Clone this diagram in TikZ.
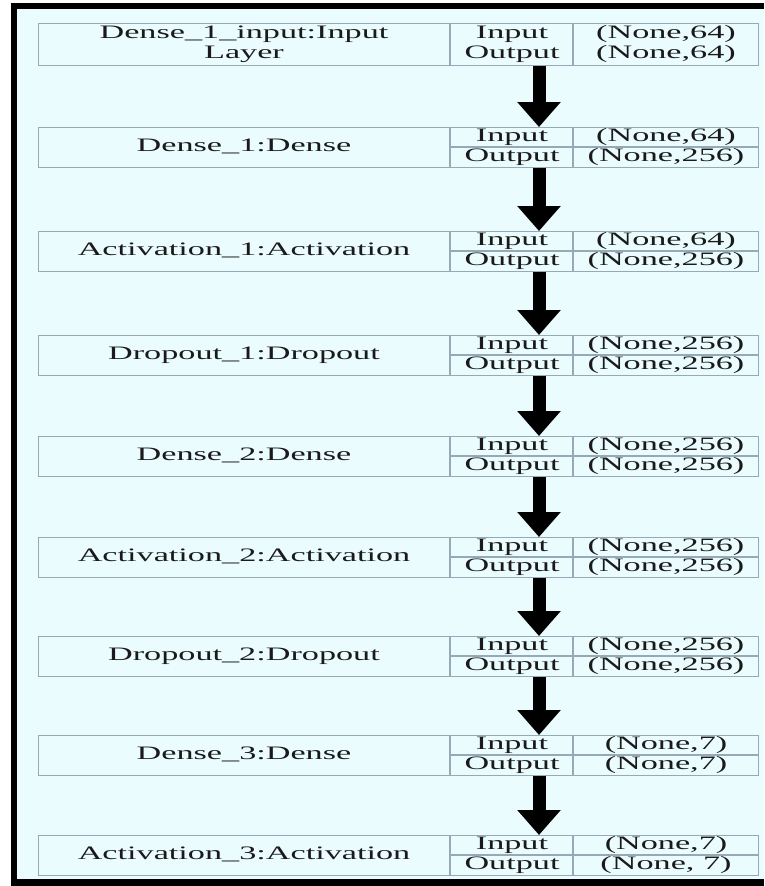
\documentclass[tikz,border=0pt]{standalone}
\usepackage{fontspec}
\setmainfont{Liberation Serif}[FakeStretch=1.8]
\usetikzlibrary{arrows.meta}
\definecolor{bgcyan}{HTML}{EBFCFE}
\definecolor{gridcol}{HTML}{97A9B4}
\definecolor{txtcol}{HTML}{1A1A1A}
\tikzset{
  layerbox/.style={draw=gridcol, line width=1.1pt, rectangle, inner sep=0pt,
    minimum width=720pt, minimum height=40pt, anchor=north west},
  gridline/.style={draw=gridcol, line width=1.1pt},
  basetext/.style={text=txtcol, font=\fontsize{19}{19.5}\selectfont, inner sep=0pt, anchor=center},
  celltext/.style={basetext, text height=13pt, text depth=4pt},
  flowarrow/.style={draw=black, line width=13pt,
    -{Triangle[width=42pt,length=25pt]}}
}
\begin{document}
\begin{tikzpicture}[x=1pt,y=-1pt]
\useasboundingbox (0,0) rectangle (764,886);
\fill[white] (0,0) rectangle (764,886);
\fill[black] (11,3) rectangle (764,886);
\fill[bgcyan] (17,9) rectangle (764,879);
\coordinate (ax) at (539,0);
% box 1
\node[layerbox, minimum height=42pt] (b1) at (38,23) {};
\draw[gridline] (450,23) -- (450,65);
\draw[gridline] (573,23) -- (573,65);
\node[basetext, align=center] (l1) at (244,44.5) {Dense\_1\_input:Input\\Layer};
\node[celltext] (i1) at (512,34) {Input};
\node[celltext] (o1) at (512,54) {Output};
\node[celltext] (vi1) at (666,34) {(None,64)};
\node[celltext] (vo1) at (666,54) {(None,64)};
% boxes 2-9
\foreach \i/\t/\lab/\vin/\vout in {
  2/127/{Dense\_1:Dense}/{(None,64)}/{(None,256)},
  3/231/{Activation\_1:Activation}/{(None,64)}/{(None,256)},
  4/335/{Dropout\_1:Dropout}/{(None,256)}/{(None,256)},
  5/436/{Dense\_2:Dense}/{(None,256)}/{(None,256)},
  6/537/{Activation\_2:Activation}/{(None,256)}/{(None,256)},
  7/636/{Dropout\_2:Dropout}/{(None,256)}/{(None,256)},
  8/735/{Dense\_3:Dense}/{(None,7)}/{(None,7)},
  9/835/{Activation\_3:Activation}/{(None,7)}/{(None, 7)}}{
  \node[layerbox] (b\i) at (38,\t) {};
  \draw[gridline] (450,\t) -- (450,\t+40);
  \draw[gridline] (573,\t) -- (573,\t+40);
  \draw[gridline] (450,\t+20) -- (758,\t+20);
  \node[celltext] (l\i) at (244,\t+20) {\lab};
  \node[celltext] (i\i) at (512,\t+10) {Input};
  \node[celltext] (o\i) at (512,\t+30) {Output};
  \node[celltext] (vi\i) at (666,\t+10) {\vin};
  \node[celltext] (vo\i) at (666,\t+30) {\vout};
}
% arrows
\foreach \a/\b in {1/2,2/3,3/4,4/5,5/6,6/7,7/8,8/9}{
  \draw[flowarrow] (b\a.south -| ax) -- (b\b.north -| ax);
}
\end{tikzpicture}
\end{document}
